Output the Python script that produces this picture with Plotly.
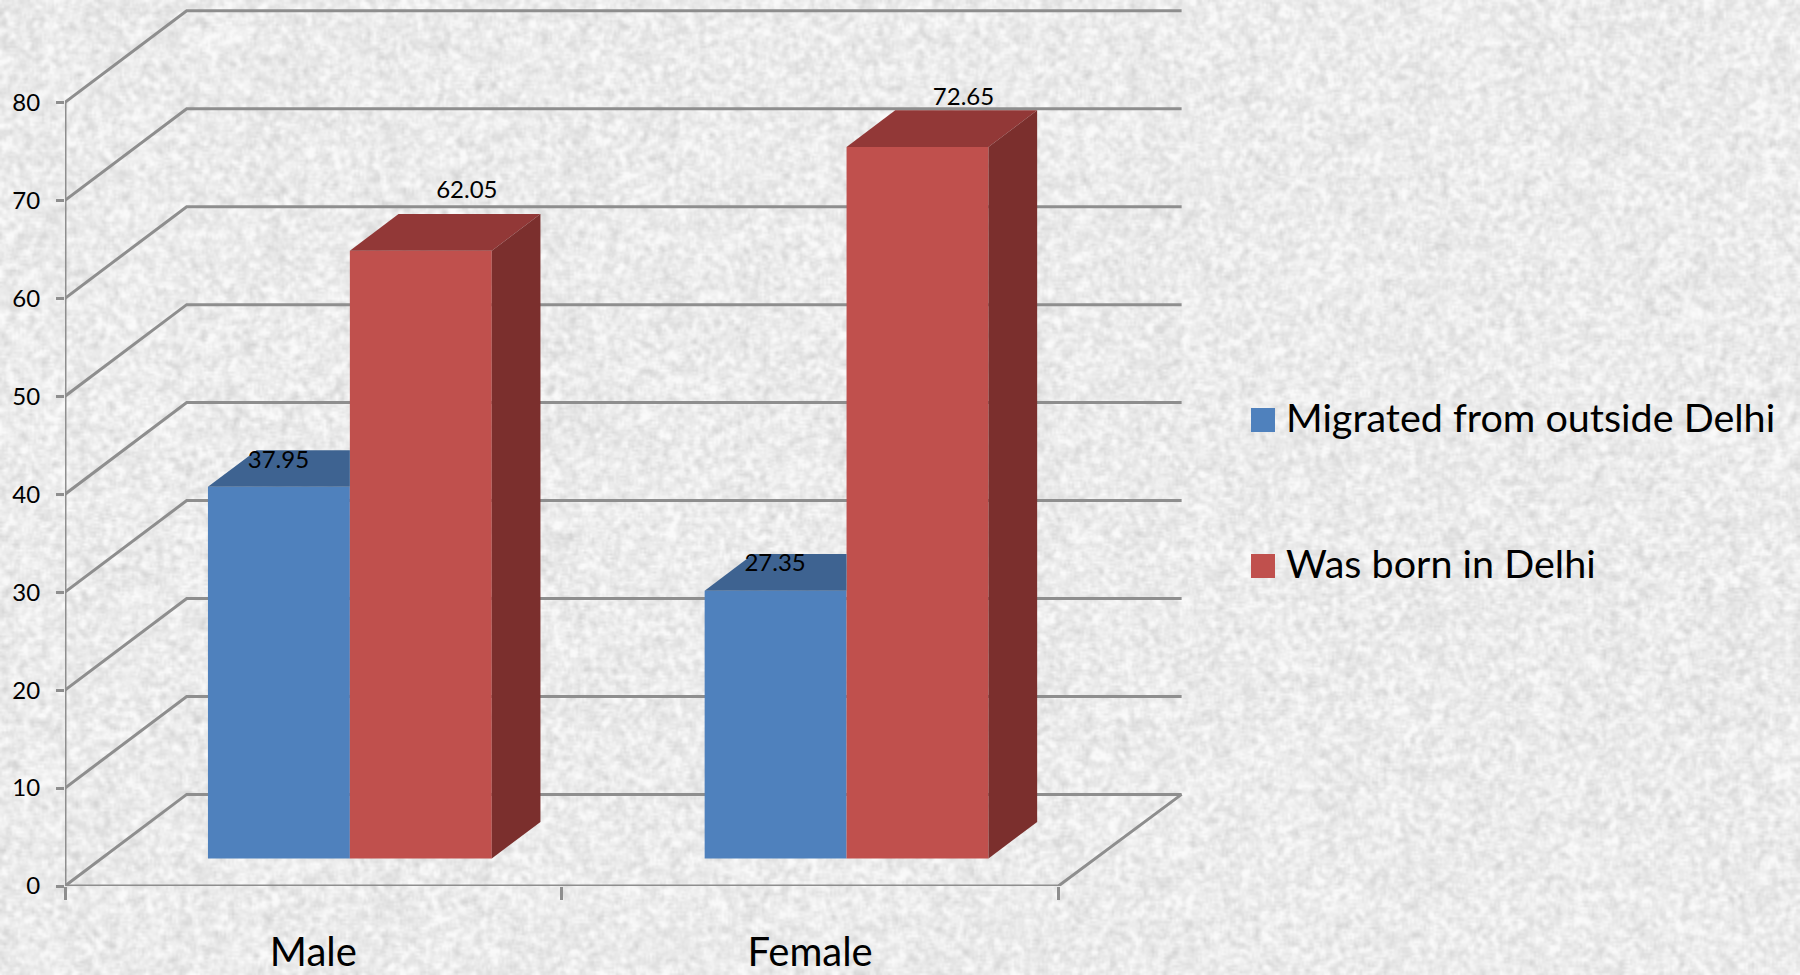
import base64
import struct
import zlib

import numpy as np
import plotly.graph_objects as go

# ---------- data ----------
categories = ["Male", "Female"]
migrated = [37.95, 27.35]
born = [62.05, 72.65]
series_names = ["Migrated from outside Delhi", "Was born in Delhi"]
y_ticks = [0, 10, 20, 30, 40, 50, 60, 70, 80]

# ---------- geometry (pixel frame of the plot area, oblique projection) ----------
W, H = 1800, 975
L, R, T, B = 65, 1184, 0, 886
XU = 496.7          # pixels per category
YU = 9.795          # pixels per value unit
DX = 121.7 / XU     # wall depth in x units
DY = 91.6 / YU      # wall depth in y units
WALL_END = 2 + DX + 1.5 / XU
BAR_W = 1 / 3.5
GAP = 0.75 * BAR_W
F0, F1 = 0.3, 0.7   # bar front and back as fractions of the depth

BLUE, BLUE_TOP = "#4F81BD", "#3E6391"
RED, RED_TOP, RED_SIDE = "#C0504D", "#923837", "#7B2F2D"
GRID = "#8E8E8E"
FONT = "Lato"


def texture_uri():
    """Grey mottled paper tile, deterministic, encoded as a PNG data URI."""
    h, w = 488, 900
    yy, xx = np.mgrid[0:h, 0:w].astype(float)
    n = np.abs(np.modf(np.sin(xx * 12.9898 + yy * 78.233) * 43758.5453)[0])
    n = sum(np.roll(np.roll(n, i, 0), j, 1) for i in (-1, 0, 1) for j in (-1, 0, 1)) / 9
    n = (n - n.mean()) / n.std()
    img = np.clip(236 + 7 * n, 200, 250).astype(np.uint8)
    raw = b"".join(b"\x00" + img[r].tobytes() for r in range(h))

    def chunk(tag, payload):
        return (struct.pack(">I", len(payload)) + tag + payload
                + struct.pack(">I", zlib.crc32(tag + payload) & 0xFFFFFFFF))

    png = (b"\x89PNG\r\n\x1a\n"
           + chunk(b"IHDR", struct.pack(">IIBBBBB", w, h, 8, 0, 0, 0, 0))
           + chunk(b"IDAT", zlib.compress(raw, 9))
           + chunk(b"IEND", b""))
    return "data:image/png;base64," + base64.b64encode(png).decode()


def paper_x(px):
    return (px - L) / (R - L)


def paper_y(py):
    return (B - py) / (B - T)


fig = go.Figure()

# Front faces
for s, (name, vals, col) in enumerate(zip(series_names, [migrated, born], [BLUE, RED])):
    fig.add_trace(go.Bar(
        x=[i + GAP + (s + 0.5) * BAR_W + F0 * DX for i in range(len(categories))],
        y=vals, base=F0 * DY, width=BAR_W, name=name,
        marker=dict(color=col, line=dict(width=0)),
        showlegend=False,
        customdata=categories,
        hovertemplate="%{customdata}: %{y}<extra>" + name + "</extra>",
    ))


def poly(xs, ys, col):
    fig.add_trace(go.Scatter(x=xs, y=ys, mode="lines", fill="toself", fillcolor=col,
                             line=dict(width=0, color=col), showlegend=False, hoverinfo="skip"))


# Top faces of the front series (the part the second series does not hide)
for i, v in enumerate(migrated):
    x0 = i + GAP + F0 * DX
    x1 = x0 + BAR_W
    y1 = v + F0 * DY
    d = (F1 - F0)
    poly([x0, x1, x1, x0 + d * DX, x0], [y1, y1, y1 + d * DY, y1 + d * DY, y1], BLUE_TOP)

# Top and side faces of the second series
for i, v in enumerate(born):
    x0 = i + GAP + BAR_W + F0 * DX
    x1 = x0 + BAR_W
    y1 = v + F0 * DY
    y0 = F0 * DY
    d = (F1 - F0)
    poly([x0, x1, x1 + d * DX, x0 + d * DX, x0], [y1, y1, y1 + d * DY, y1 + d * DY, y1], RED_TOP)
    poly([x1, x1 + d * DX, x1 + d * DX, x1, x1], [y0, y0 + d * DY, y1 + d * DY, y1, y0], RED_SIDE)

# Data labels (each placed as in the reference, offset from its bar)
label_x, label_y, label_t = [], [], []
blue_offs = [2.5, 2.65]
for i, v in enumerate(migrated):
    label_x.append(i + GAP + 0.5 * BAR_W + F0 * DX - 0.5 / XU)
    label_y.append(v + F0 * DY + blue_offs[i])
    label_t.append(f"{v:.2f}")
red_offs = [5.95, 4.9]
for i, v in enumerate(born):
    label_x.append(i + GAP + 1.5 * BAR_W + F0 * DX + 46 / XU)
    label_y.append(v + F0 * DY + red_offs[i])
    label_t.append(f"{v:.2f}")
fig.add_trace(go.Scatter(x=label_x, y=label_y, text=label_t, mode="text",
                         textposition="middle center",
                         textfont=dict(family=FONT, size=24, color="#000000"),
                         showlegend=False, hoverinfo="skip"))

# Walls, gridlines and axis lines, under the bars
shapes = []
for v in y_ticks:
    shapes.append(dict(type="path", layer="below", xref="x", yref="y",
                       path=f"M 0 {v} L {DX} {v + DY} L {WALL_END} {v + DY}",
                       line=dict(color=GRID, width=3)))
shapes.append(dict(type="path", layer="below", xref="x", yref="y",
                   path=f"M 0 0 L 2 0 L {WALL_END} {DY}", line=dict(color=GRID, width=3)))
shapes.append(dict(type="line", layer="below", xref="x", yref="y", x0=0, x1=0, y0=0, y1=80,
                   line=dict(color=GRID, width=3)))

# Legend
legend_rows = [(420, BLUE), (566, RED)]
annotations = []
for (cy, col), name in zip(legend_rows, series_names):
    shapes.append(dict(type="rect", xref="paper", yref="paper",
                       x0=paper_x(1251), x1=paper_x(1275),
                       y0=paper_y(cy - 12), y1=paper_y(cy + 12),
                       fillcolor=col, line=dict(width=0), layer="above"))
    annotations.append(dict(text=name, xref="paper", yref="paper",
                            x=paper_x(1284), y=paper_y(cy - 4), xanchor="left", yanchor="middle",
                            showarrow=False, font=dict(family=FONT, size=39.5, color="#000000")))

fig.update_layout(
    width=W, height=H, autosize=False,
    margin=dict(l=L, r=W - R, t=T, b=H - B, pad=0),
    paper_bgcolor="#EAE9E7", plot_bgcolor="rgba(0,0,0,0)",
    barmode="overlay", showlegend=False,
    shapes=shapes, annotations=annotations,
    images=[dict(source=texture_uri(), xref="paper", yref="paper",
                 x=paper_x(0), y=paper_y(0),
                 sizex=W / (R - L), sizey=H / (B - T),
                 xanchor="left", yanchor="top", sizing="stretch", layer="below")],
    xaxis=dict(range=[0, (R - L) / XU], showgrid=False, zeroline=False, showline=False,
               tickmode="array", tickvals=[0.5, 1.5], ticktext=categories,
               ticks="", ticklabelstandoff=39,
               tickfont=dict(family=FONT, size=40, color="#000000"),
               minor=dict(tickmode="array", tickvals=[0, 1, 2], ticks="outside", ticklen=13,
                          tickwidth=3, tickcolor=GRID, showgrid=False)),
    yaxis=dict(range=[0, (B - T) / YU], showgrid=False, zeroline=False, showline=False,
               tickmode="array", tickvals=y_ticks, ticks="outside", ticklen=8,
               tickwidth=3, tickcolor=GRID, ticklabelstandoff=11,
               tickfont=dict(family=FONT, size=24, color="#000000")),
)

fig.write_html("out.html", config={"displayModeBar": False},
               post_script="document.body.style.margin='0';document.body.style.overflow='hidden';")
